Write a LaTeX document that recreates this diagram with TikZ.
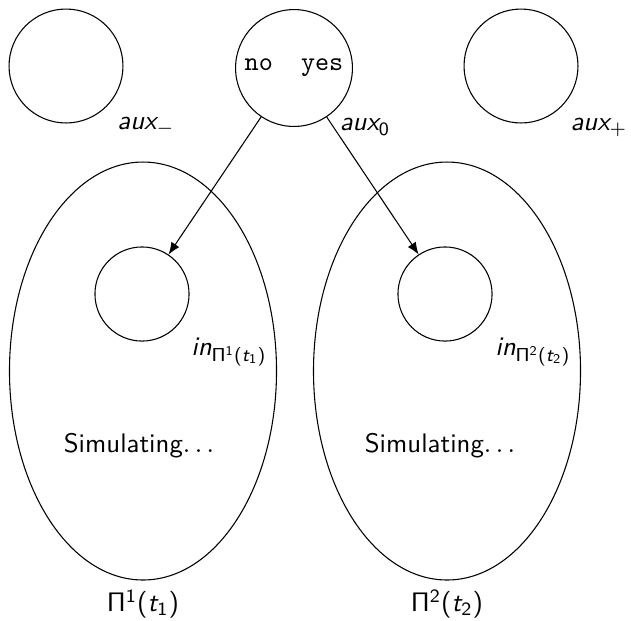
\documentclass[tikz,border=0pt]{standalone}
\usepackage{amsmath}
\usetikzlibrary{shapes.geometric,arrows.meta}
\renewcommand\familydefault{\sfdefault}
\newcommand\sv[1]{\text{\itshape #1}}
\newcommand\su[1]{\text{#1}}
\newcommand\SPi{\mathsf{\Pi}}
\begin{document}
\begin{tikzpicture}[x=0.373pt,y=-0.373pt,
  membrane/.style={draw,circle,inner sep=0pt},
  region/.style={draw,ellipse,inner sep=0pt,minimum width=99.6pt,minimum height=155.9pt},
  lbl/.style={inner sep=0pt},
  conn/.style={-{Latex[length=4.5pt,width=3.6pt]}}]
\useasboundingbox (0,0) rectangle (631,620);
\node[membrane,minimum size=42.5pt] (auxm) at (66,66) {};
\node[membrane,minimum size=43.6pt] (aux0) at (294,68) {\ttfamily no\ \ yes};
\node[membrane,minimum size=42.5pt] (auxp) at (521,66) {};
\node[lbl] (lauxm) at (146,126) {$\sv{aux}_{-}$};
\node[lbl] (laux0) at (365,127) {$\sv{aux}_{\su{0}}$};
\node[lbl] (lauxp) at (599,127) {$\sv{aux}_{+}$};
\node[region] (e1) at (143,371) {};
\node[region] (e2) at (447,371) {};
\node[membrane,minimum size=35.1pt] (in1) at (142,294) {};
\node[membrane,minimum size=35.1pt] (in2) at (445,294) {};
\node[lbl] (lin1) at (229,352) {$\sv{in}_{\SPi^{\su{1}}\su{(}\sv{t}_{\su{1}}\su{)}}$};
\node[lbl] (lin2) at (533,352) {$\sv{in}_{\SPi^{\su{2}}\su{(}\sv{t}_{\su{2}}\su{)}}$};
\node[lbl] (sim1) at (139,446) {Simulating$\ldots$};
\node[lbl] (sim2) at (440,446) {Simulating$\ldots$};
\node[lbl] (p1) at (143,604) {$\SPi^{\su{1}}\su{(}\sv{t}_{\su{1}}\su{)}$};
\node[lbl] (p2) at (447,604) {$\SPi^{\su{2}}\su{(}\sv{t}_{\su{2}}\su{)}$};
\draw[conn] (aux0) -- (in1);
\draw[conn] (aux0) -- (in2);
\end{tikzpicture}
\end{document}
